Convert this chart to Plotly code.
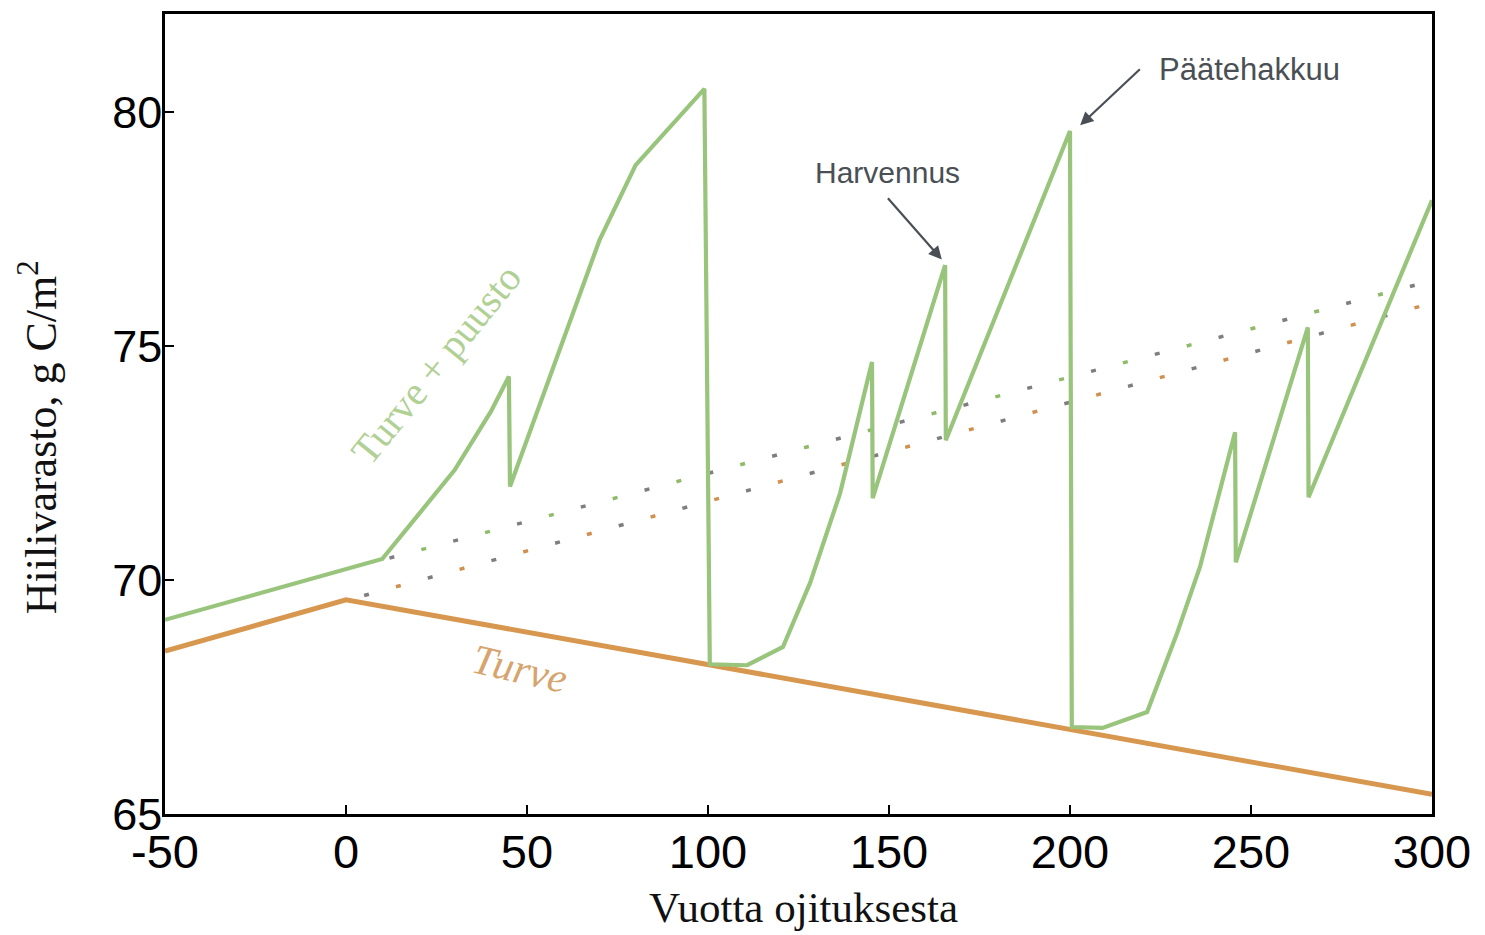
import plotly.graph_objects as go

# ---- data ----
turve_x = [-50, 0, 300]
turve_y = [68.48, 69.58, 65.42]

puusto_x = [-50, 10, 20, 30, 40, 45, 45.3, 70, 80, 99, 100.5, 110.8, 120.7, 128.2, 136.5,
            145.3, 145.5, 165.5, 165.7, 200, 200.5, 209, 221.3, 229.6, 235.9, 245.6, 245.8,
            265.7, 265.9, 300]
puusto_y = [69.15, 70.45, 71.4, 72.35, 73.6, 74.35, 72.0, 77.26, 78.87, 80.5, 68.2, 68.18, 68.57, 69.94, 71.86,
            74.66, 71.75, 76.73, 72.99, 79.6, 66.86, 66.84, 67.18, 68.87, 70.28, 73.16, 70.38,
            75.4, 71.77, 78.12]

upper_dot_x = [12, 300]
upper_dot_y = [70.47, 76.40]
lower_dot_x = [5, 300]
lower_dot_y = [69.67, 75.92]

x_ticks = [-50, 0, 50, 100, 150, 200, 250, 300]
y_ticks = [65, 70, 75, 80]

GREEN = "#98c47c"
ORANGE = "#d8974e"
ARROW = "#4a4f55"
SERIF = "Liberation Serif, Times New Roman, serif"
SANS = "Liberation Sans, Arial, sans-serif"

fig = go.Figure()

# dotted reference lines (two-coloured dots)
for xs, ys, col in [(upper_dot_x, upper_dot_y, "#8fba6a"), (lower_dot_x, lower_dot_y, "#d09050")]:
    fig.add_trace(go.Scatter(x=xs, y=ys, mode="lines",
                             line=dict(color="#7e7e7e", width=3.5, dash="5px,61px"),
                             hoverinfo="skip", showlegend=False))
    fig.add_trace(go.Scatter(x=xs, y=ys, mode="lines",
                             line=dict(color=col, width=3.5, dash="0px,33px,5px,28px"),
                             hoverinfo="skip", showlegend=False))

fig.add_trace(go.Scatter(x=turve_x, y=turve_y, mode="lines",
                         line=dict(color=ORANGE, width=5), name="Turve", showlegend=False))
fig.add_trace(go.Scatter(x=puusto_x, y=puusto_y, mode="lines",
                         line=dict(color=GREEN, width=4.2), name="Turve + puusto", showlegend=False))

annotations = [
    dict(x=24.9, y=74.6, xref="x", yref="y", text="Turve + puusto", showarrow=False,
         textangle=-51, font=dict(family=SERIF, size=40, color="#b0d094")),
    dict(x=48.2, y=68.1, xref="x", yref="y", text="<i>Turve</i>", showarrow=False,
         textangle=13, font=dict(family=SERIF, size=42, color="#d6a46e")),
    dict(x=164.6, y=76.85, ax=149.7, ay=78.16, xref="x", yref="y", axref="x", ayref="y",
         text="Harvennus", xanchor="center", yanchor="bottom", borderpad=8,
         showarrow=True, arrowhead=2, arrowsize=1.2, arrowwidth=2.2, arrowcolor=ARROW,
         font=dict(family=SANS, size=30, color=ARROW)),
    dict(x=202.8, y=79.72, ax=219.3, ay=80.92, xref="x", yref="y", axref="x", ayref="y",
         text="Päätehakkuu", xanchor="left", yanchor="middle", borderpad=18,
         showarrow=True, arrowhead=2, arrowsize=1.2, arrowwidth=2.2, arrowcolor=ARROW,
         font=dict(family=SANS, size=31, color=ARROW)),
    dict(x=-0.1002, y=0.471, xref="paper", yref="paper", text="Hiilivarasto, g C/m<sup>2</sup>",
         showarrow=False, textangle=-90, xanchor="center", yanchor="middle",
         font=dict(family=SERIF, size=44, color="#111")),
    dict(x=0.5036, y=-0.1485, xref="paper", yref="paper", text="Vuotta ojituksesta",
         showarrow=False, xanchor="center", yanchor="bottom",
         font=dict(family=SERIF, size=43, color="#111")),
]

fig.update_layout(
    width=1485, height=935,
    margin=dict(l=165, r=53, t=14, b=121),
    paper_bgcolor="white", plot_bgcolor="white",
    annotations=annotations,
    showlegend=False,
)
fig.update_xaxes(range=[-50, 300], tickvals=x_ticks, ticktext=[str(v) for v in x_ticks],
                 showgrid=False, zeroline=False, showline=True, linecolor="black", linewidth=2.5,
                 mirror=True, ticks="inside", ticklen=9, tickwidth=2, tickcolor="black",
                 ticklabelstandoff=-5,
                 tickfont=dict(family=SANS, size=47, color="black"))
fig.update_yaxes(range=[65, 82.1], tickvals=y_ticks, ticktext=[str(v) for v in y_ticks],
                 showgrid=False, zeroline=False, showline=True, linecolor="black", linewidth=2.5,
                 mirror=True, ticks="inside", ticklen=9, tickwidth=2, tickcolor="black",
                 ticklabelstandoff=-9,
                 tickfont=dict(family=SANS, size=45, color="black"))

fig.write_html("out.html")
